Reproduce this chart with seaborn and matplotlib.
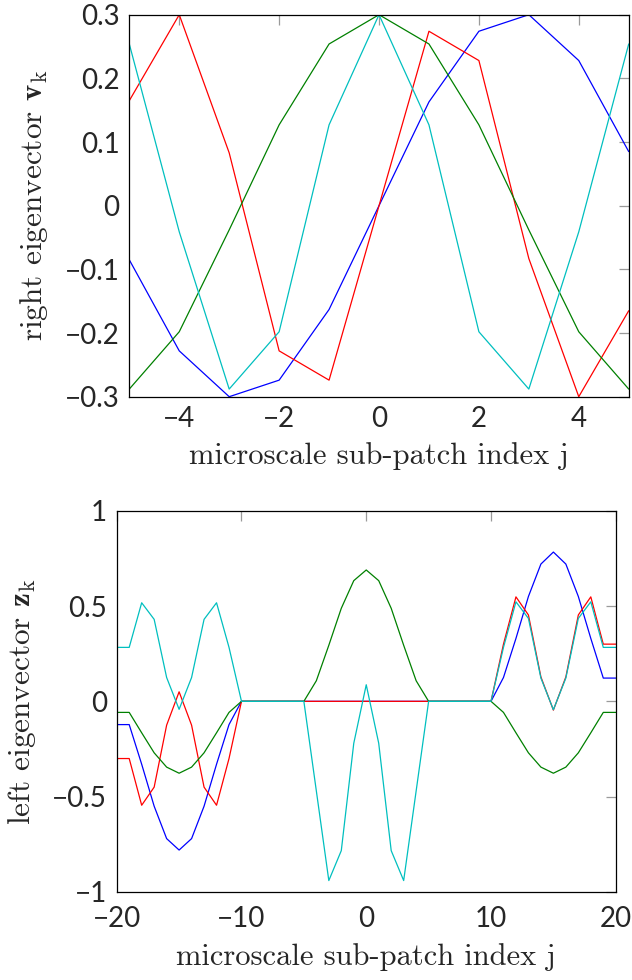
import matplotlib
matplotlib.use("Agg")
import matplotlib.pyplot as plt
from matplotlib.ticker import FuncFormatter, FixedLocator
import numpy as np
import pandas as pd
import seaborn as sns

# ---- right eigenvectors on the 11 sub-patch points ----
top_j = list(range(-5, 6))
top_blue = [-0.085, -0.228, -0.300, -0.274, -0.163, 0.0, 0.163, 0.274, 0.300, 0.228, 0.085]
top_red = [0.165, 0.300, 0.083, -0.228, -0.274, 0.0, 0.274, 0.228, -0.083, -0.300, -0.165]
top_green = [-0.288, -0.198, -0.038, 0.127, 0.254, 0.300, 0.254, 0.127, -0.038, -0.198, -0.288]
top_cyan = [0.254, -0.041, -0.288, -0.198, 0.127, 0.300, 0.127, -0.198, -0.288, -0.041, 0.254]

# ---- left eigenvectors on the 41 sub-patch points ----
bot_j = list(range(-20, 21))
bot_blue = ([-0.122, -0.122, -0.33, -0.55, -0.72, -0.78, -0.72, -0.55, -0.33, -0.122, 0.0]
            + [0.0] * 19
            + [0.0, 0.125, 0.33, 0.55, 0.72, 0.783, 0.72, 0.55, 0.33, 0.122, 0.122])
bot_red = ([-0.30, -0.30, -0.545, -0.45, -0.125, 0.05, -0.125, -0.45, -0.545, -0.30, 0.0]
           + [0.0] * 19
           + [0.0, 0.30, 0.548, 0.453, 0.128, -0.046, 0.128, 0.453, 0.548, 0.30, 0.30])
bot_green = ([-0.058, -0.058, -0.165, -0.27, -0.345, -0.377, -0.345, -0.27, -0.165, -0.058, 0.0]
             + [0.0] * 4
             + [0.0, 0.108, 0.294, 0.488, 0.633, 0.689, 0.633, 0.488, 0.294, 0.108, 0.0]
             + [0.0] * 4
             + [0.0, -0.058, -0.165, -0.27, -0.345, -0.377, -0.345, -0.27, -0.165, -0.058, -0.058])
bot_cyan = ([0.283, 0.283, 0.517, 0.43, 0.125, -0.042, 0.125, 0.43, 0.517, 0.283, 0.0]
            + [0.0] * 4
            + [0.0, -0.47, -0.94, -0.783, -0.22, 0.087, -0.22, -0.783, -0.94, -0.47, 0.0]
            + [0.0] * 4
            + [0.0, 0.283, 0.522, 0.435, 0.122, -0.044, 0.122, 0.435, 0.522, 0.283, 0.283])

modes = ["k1", "k2", "k3", "k4"]
colors = {"k1": "#0000ff", "k2": "#ff0000", "k3": "#008000", "k4": "#00bfbf"}

top_x_ticks = [-4, -2, 0, 2, 4]
top_y_ticks = [-0.3, -0.2, -0.1, 0, 0.1, 0.2, 0.3]
bot_x_ticks = [-20, -10, 0, 10, 20]
bot_y_ticks = [-1, -0.5, 0, 0.5, 1]


def long_frame(j, series):
    rows = []
    for name, vals in zip(modes, series):
        for jj, v in zip(j, vals):
            rows.append({"j": jj, "value": v, "mode": name})
    return pd.DataFrame(rows)


df_top = long_frame(top_j, [top_blue, top_red, top_green, top_cyan])
df_bot = long_frame(bot_j, [bot_blue, bot_red, bot_green, bot_cyan])

sns.set_style("white")
plt.rcParams["mathtext.fontset"] = "cm"

fig = plt.figure(figsize=(6.32, 9.80), dpi=100)
ax_top = fig.add_axes([0.2046, 0.5952, 0.7902, 0.3898])
ax_bot = fig.add_axes([0.1847, 0.0898, 0.7896, 0.3891])


def tick_fmt(v, pos):
    s = "%g" % v
    return s.replace("-", "\u2212")


def style_axes(ax, xlim, ylim, xt, yt, ylabel, ylabel_x, xpad, xlabelpad):
    ax.set_xlim(*xlim)
    ax.set_ylim(*ylim)
    ax.xaxis.set_major_locator(FixedLocator(xt))
    ax.yaxis.set_major_locator(FixedLocator(yt))
    ax.xaxis.set_major_formatter(FuncFormatter(tick_fmt))
    ax.yaxis.set_major_formatter(FuncFormatter(tick_fmt))
    ax.tick_params(axis="both", which="major", direction="in", length=7.5, width=0.9,
                   color="#9a9a9a", top=True, right=True, labelsize=20)
    ax.tick_params(axis="y", pad=7)
    ax.tick_params(axis="x", pad=xpad)
    for lab in ax.get_xticklabels() + ax.get_yticklabels():
        lab.set_fontfamily("Lato")
    for sp in ax.spines.values():
        sp.set_visible(True)
        sp.set_color("black")
        sp.set_linewidth(0.9)
    ax.set_xlabel("microscale sub-patch index j", fontfamily="cmr10", fontsize=22,
                  labelpad=xlabelpad)
    ax.set_ylabel(ylabel, fontfamily="cmr10", fontsize=22.5)
    ax.yaxis.set_label_coords(ylabel_x, 0.5)
    ax.grid(False)


for ax, df in ((ax_top, df_top), (ax_bot, df_bot)):
    sns.lineplot(data=df, x="j", y="value", hue="mode", hue_order=modes,
                 palette=colors, legend=False, linewidth=0.9, ax=ax)

style_axes(ax_top, (-5, 5), (-0.3, 0.3), top_x_ticks, top_y_ticks,
           r"right eigenvector $\mathbf{v}_{\mathrm{k}}$", -0.158, 7, 7)
style_axes(ax_bot, (-20, 20), (-1, 1), bot_x_ticks, bot_y_ticks,
           r"left eigenvector $\mathbf{z}_{\mathrm{k}}$", -0.158, 10, 8)

fig.savefig("out.png", dpi=100)
